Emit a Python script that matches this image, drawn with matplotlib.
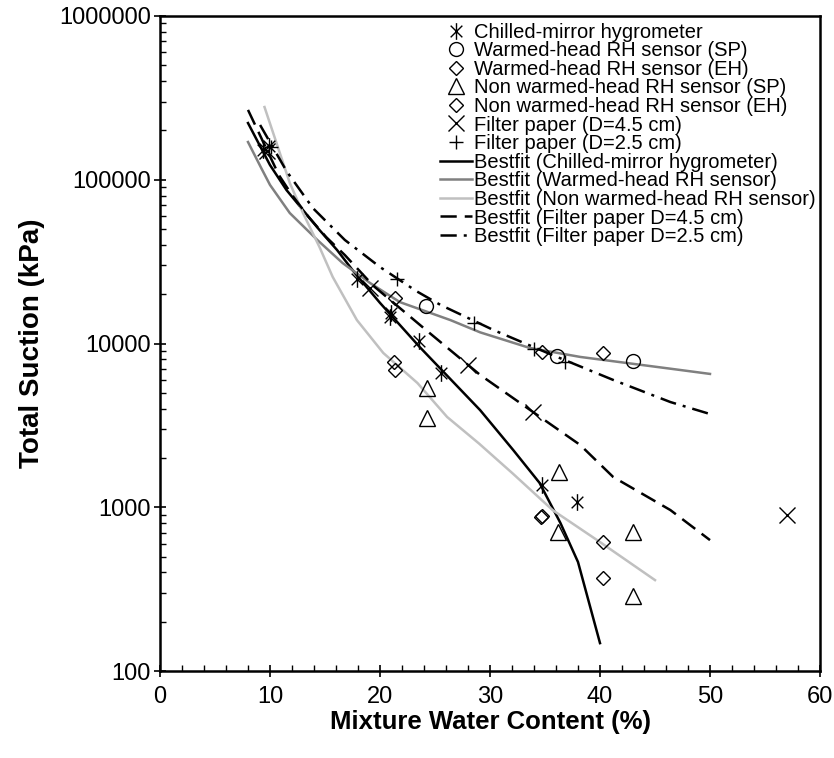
import numpy as np
import matplotlib
matplotlib.use("Agg")
import matplotlib.pyplot as plt
from matplotlib.path import Path
from matplotlib.ticker import FixedLocator, FuncFormatter, LogLocator, NullFormatter

plt.rcParams['font.family'] = ['Liberation Sans', 'DejaVu Sans']

# measured points
chilled_x = [9.4, 9.9, 17.9, 20.9, 21.0, 23.5, 25.5, 34.7, 37.9]
chilled_y = [152000, 160000, 24800, 14500, 15400, 10350, 6600, 1370, 1080]

warm_sp_x = [24.2, 36.1, 43.0]
warm_sp_y = [16900, 8400, 7820]

warm_eh_x = [21.4, 34.7, 40.3]
warm_eh_y = [19000, 8870, 8750]

nonwarm_sp_x = [24.3, 24.3, 36.3, 36.2, 43.0, 43.0]
nonwarm_sp_y = [5350, 3510, 1640, 706, 706, 287]

nonwarm_eh_x = [21.3, 21.4, 34.6, 34.7, 40.3, 40.3]
nonwarm_eh_y = [7710, 6890, 870, 890, 614, 370]

fp45_x = [9.7, 19.1, 28.0, 33.9, 57.0]
fp45_y = [150000, 21800, 7390, 3820, 897]

fp25_x = [10.1, 21.5, 28.5, 34.0, 36.8]
fp25_y = [158000, 24800, 13300, 9250, 7710]

# best fit curves
fit_chilled_x = [8, 10, 11.5, 13, 14.5, 16.1, 17.7, 20, 23.6, 29.1, 32.1, 34.5, 36.4, 38, 40]
fit_chilled_y = [222000, 123000, 86500, 65300, 49300, 37200, 27000, 17700, 9530, 3920, 2240, 1410, 802, 463, 148]

fit_warm_x = [8, 9.2, 10, 11.8, 14.3, 16.6, 19.1, 21.8, 26.4, 29.1, 33.6, 38.2, 47.3, 50]
fit_warm_y = [170000, 118000, 93000, 62600, 42900, 31000, 23400, 17900, 13900, 11700, 9400, 8280, 6890, 6520]

fit_nonwarm_x = [9.5, 10.5, 11.8, 13, 14.5, 15.7, 17.9, 20.3, 23.4, 26.1, 29, 32.1, 35.7, 40, 45]
fit_nonwarm_y = [278000, 175000, 95500, 62600, 38800, 25500, 13900, 8750, 5740, 3560, 2450, 1600, 960, 613, 359]

fit_fp45_x = [8, 10.8, 12, 13.5, 15.1, 16.8, 19.4, 24.5, 29.1, 33.9, 38.2, 41.2, 46.4, 50]
fit_fp45_y = [267000, 107000, 80700, 59300, 44700, 34700, 22500, 11600, 6430, 3820, 2400, 1530, 961, 630]

fit_fp25_x = [9.1, 11.5, 13.9, 16.8, 20.0, 23.3, 25.5, 30.3, 35.5, 41.2, 46.4, 50]
fit_fp25_y = [216000, 113000, 67100, 42900, 29300, 20900, 17200, 12100, 8600, 5990, 4390, 3710]

# asterisk marker: vertical bar plus an x
ast = Path([(0, -1), (0, 1), (-0.7, -0.7), (0.7, 0.7), (-0.7, 0.7), (0.7, -0.7)],
           [Path.MOVETO, Path.LINETO] * 3)

fig = plt.figure(figsize=(8.34, 7.58), dpi=100)
ax = fig.add_axes([160 / 834, 1 - 671 / 758, 660 / 834, 655 / 758])

mk = dict(linestyle='none', color='black', markerfacecolor='none', markeredgewidth=1.0, zorder=5)
ax.plot(chilled_x, chilled_y, marker=ast, markersize=12, label='Chilled-mirror hygrometer', **mk)
ax.plot(warm_sp_x, warm_sp_y, marker='o', markersize=10, label='Warmed-head RH sensor (SP)', **mk)
ax.plot(warm_eh_x, warm_eh_y, marker='D', markersize=7, label='Warmed-head RH sensor (EH)', **mk)
ax.plot(nonwarm_sp_x, nonwarm_sp_y, marker='^', markersize=11, label='Non warmed-head RH sensor (SP)', **mk)
ax.plot(nonwarm_eh_x, nonwarm_eh_y, marker='D', markersize=7, label='Non warmed-head RH sensor (EH)', **mk)
ax.plot(fp45_x, fp45_y, marker='x', markersize=12, label='Filter paper (D=4.5 cm)', **mk)
ax.plot(fp25_x, fp25_y, marker='+', markersize=10, label='Filter paper (D=2.5 cm)', **mk)

ax.plot(fit_chilled_x, fit_chilled_y, color='black', lw=1.8, label='Bestfit (Chilled-mirror hygrometer)')
ax.plot(fit_warm_x, fit_warm_y, color='#808080', lw=1.8, label='Bestfit (Warmed-head RH sensor)')
ax.plot(fit_nonwarm_x, fit_nonwarm_y, color='#c0c0c0', lw=1.8, label='Bestfit (Non warmed-head RH sensor)')
ax.plot(fit_fp45_x, fit_fp45_y, color='black', lw=1.8, linestyle=(0, (6.5, 3.2)),
        label='Bestfit (Filter paper D=4.5 cm)')
ax.plot(fit_fp25_x, fit_fp25_y, color='black', lw=1.8, linestyle=(0, (6.5, 2.8, 1.2, 2.8)),
        label='Bestfit (Filter paper D=2.5 cm)')

ax.set_yscale('log')
ax.set_xlim(0, 60)
ax.set_ylim(100, 1000000)
ax.xaxis.set_major_locator(FixedLocator([0, 10, 20, 30, 40, 50, 60]))
ax.xaxis.set_minor_locator(FixedLocator(np.arange(0, 61, 2)))
ax.yaxis.set_major_locator(LogLocator(base=10, numticks=10))
ax.yaxis.set_minor_locator(LogLocator(base=10, subs=np.arange(2, 10), numticks=20))
ax.yaxis.set_major_formatter(FuncFormatter(lambda v, p: '%d' % round(v)))
ax.yaxis.set_minor_formatter(NullFormatter())

ax.tick_params(which='major', direction='inout', length=9, width=1.2, labelsize=17, pad=2)
ax.tick_params(axis='x', which='major', pad=6)
ax.tick_params(which='minor', direction='in', length=4.5, width=1.0)
for s in ax.spines.values():
    s.set_linewidth(1.8)

ax.set_xlabel('Mixture Water Content (%)', fontsize=18.5, fontweight='bold', labelpad=2)
ax.set_ylabel('Total Suction (kPa)', fontsize=20, fontweight='bold', labelpad=10)

ax.legend(loc='upper left', bbox_to_anchor=(0.424, 0.99), frameon=False, fontsize=14.5,
          handlelength=1.6, handletextpad=0.1, labelspacing=-0.02, borderpad=0, borderaxespad=0)

fig.savefig('out.png', dpi=100)
